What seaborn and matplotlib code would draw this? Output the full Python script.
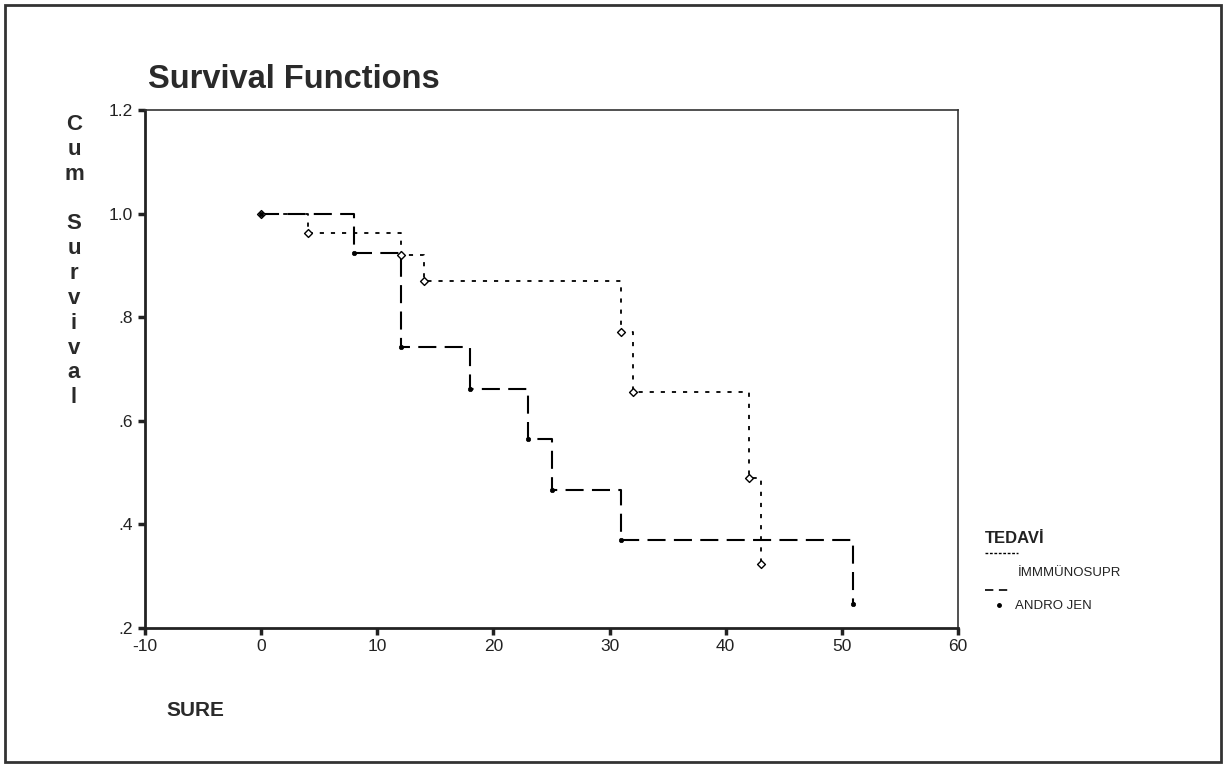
import seaborn as sns
import matplotlib.pyplot as plt
from matplotlib.lines import Line2D
from matplotlib.patches import Rectangle

# Kaplan-Meier estimates read off the scanned SPSS output
immuno_time = [0, 4, 12, 14, 31, 32, 42, 43]
immuno_surv = [1.0, 0.963, 0.92, 0.869, 0.772, 0.656, 0.49, 0.324]
andro_time = [0, 8, 12, 18, 23, 25, 31, 51]
andro_surv = [1.0, 0.923, 0.743, 0.662, 0.564, 0.467, 0.369, 0.247]

group_names = ["İMMMÜNOSUPR", "ANDRO JEN"]
x_ticks = [-10, 0, 10, 20, 30, 40, 50, 60]
y_ticks = [0.2, 0.4, 0.6, 0.8, 1.0, 1.2]
y_tick_labels = [".2", ".4", ".6", ".8", "1.0", "1.2"]

W, H = 1227, 767


def px(x, y):
    # pixel position (from top-left) -> figure fraction
    return x / W, 1 - y / H


def main():
    sns.set_theme(style="white")
    plt.rcParams['font.family'] = ['Liberation Sans', 'DejaVu Sans']
    plt.rcParams['lines.scale_dashes'] = False

    fig = plt.figure(figsize=(W / 100, H / 100), dpi=100)
    fig.patch.set_facecolor("white")
    left, bottom = px(145, 628)
    ax = fig.add_axes([left, bottom, (958 - 145) / W, (628 - 110) / H])

    short_dash = (0, (3.0, 5.0))
    long_dash = (0, (13.0, 6.0))

    sns.lineplot(x=immuno_time, y=immuno_surv, drawstyle="steps-post", color="black",
                 linewidth=1.3, linestyle=short_dash, estimator=None, sort=False, ax=ax)
    sns.lineplot(x=andro_time, y=andro_surv, drawstyle="steps-post", color="black",
                 linewidth=1.5, linestyle=long_dash, estimator=None, sort=False, ax=ax)
    sns.scatterplot(x=immuno_time, y=immuno_surv, marker="D", s=16, facecolor="white",
                    edgecolor="black", linewidth=1.0, zorder=3, ax=ax)
    sns.scatterplot(x=andro_time, y=andro_surv, marker="o", s=10, color="black",
                    edgecolor="black", linewidth=0.5, zorder=4, ax=ax)

    ax.set_xlim(-10, 60)
    ax.set_ylim(0.2, 1.2)
    ax.set_xticks(x_ticks)
    ax.set_xticklabels([str(t) for t in x_ticks])
    ax.set_yticks(y_ticks)
    ax.set_yticklabels(y_tick_labels)
    ax.set(xlabel="", ylabel="")
    ax.tick_params(axis="both", direction="out", length=5, width=2.5, color="#222222",
                   labelsize=12.5, labelcolor="#222222", bottom=True, left=True)
    ax.tick_params(axis="y", pad=4)
    ax.tick_params(axis="x", pad=3)
    for side in ["left", "bottom"]:
        ax.spines[side].set_linewidth(2.0)
        ax.spines[side].set_color("#222222")
    for side in ["top", "right"]:
        ax.spines[side].set_linewidth(1.2)
        ax.spines[side].set_color("#333333")

    # titles and axis captions as in the SPSS chart
    fig.text(*px(148, 88), "Survival Functions", fontsize=23.5, fontweight="bold",
             color="#2a2a2a", va="baseline", ha="left")
    fig.text(*px(195, 716), "SURE", fontsize=15, fontweight="bold",
             color="#2a2a2a", va="baseline", ha="center")
    fig.text(*px(74, 114), "C\nu\nm\n\nS\nu\nr\nv\ni\nv\na\nl", fontsize=16,
             fontweight="bold", color="#2a2a2a", va="top", ha="center",
             multialignment="center", linespacing=1.24)

    # legend block
    fig.text(*px(985, 543), "TEDAVİ", fontsize=12, fontweight="bold",
             color="#222222", va="baseline", ha="left")
    x0, y0 = px(985, 553)
    x1, _ = px(1018, 553)
    fig.add_artist(Line2D([x0, x1], [y0, y0], color="black", linewidth=1.0,
                          linestyle=(0, (2.0, 1.2)), transform=fig.transFigure))
    fig.text(*px(1018, 576), group_names[0], fontsize=9.5, color="#222222",
             va="baseline", ha="left")
    x0, y0 = px(985, 590)
    x1, _ = px(1010, 590)
    fig.add_artist(Line2D([x0, x1], [y0, y0], color="black", linewidth=1.2,
                          linestyle=(0, (6.0, 4.0)), transform=fig.transFigure))
    fig.add_artist(Line2D([px(999, 605)[0]], [px(999, 605)[1]], marker="o", markersize=2.5,
                          color="black", linestyle="none", transform=fig.transFigure))
    fig.text(*px(1015, 609), group_names[1], fontsize=9.5, color="#222222",
             va="baseline", ha="left")

    # outer frame of the scanned page
    fx0, fy0 = px(5, 762)
    fig.add_artist(Rectangle((fx0, fy0), (1221 - 5) / W, (762 - 5) / H, fill=False,
                             edgecolor="#333333", linewidth=2.0, transform=fig.transFigure))

    fig.savefig("out.png", dpi=100)


if __name__ == "__main__":
    main()
